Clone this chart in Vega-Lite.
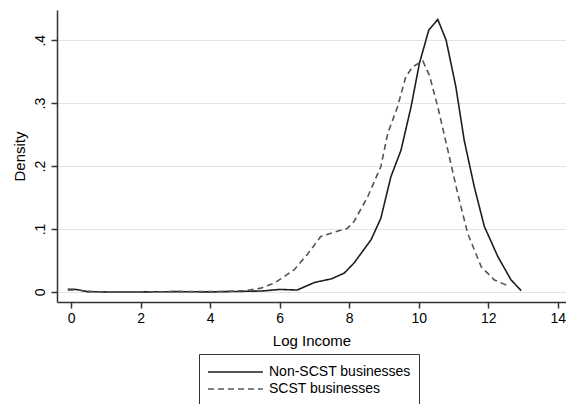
{
  "$schema": "https://vega.github.io/schema/vega-lite/v6.json",
  "width": 509,
  "height": 292,
  "autosize": "none",
  "padding": {"left": 57, "top": 10, "right": 0, "bottom": 102},
  "background": "white",
  "config": {
    "font": "Liberation Sans",
    "view": {"stroke": null},
    "axis": {"domainColor": "#333", "domainWidth": 1.5, "tickColor": "#333", "tickWidth": 1.5, "tickSize": 6, "labelFontSize": 14, "titleFontSize": 15, "labelColor": "#000", "titleColor": "#000", "titleFontWeight": "normal"}
  },
  "data": {"values": [
    {"x": -0.1, "y": 0.004, "g": "Non-SCST businesses"},
    {"x": 0.1, "y": 0.004, "g": "Non-SCST businesses"},
    {"x": 0.25, "y": 0.003, "g": "Non-SCST businesses"},
    {"x": 0.45, "y": 0.0005, "g": "Non-SCST businesses"},
    {"x": 1, "y": 0.0, "g": "Non-SCST businesses"},
    {"x": 2, "y": 0.0, "g": "Non-SCST businesses"},
    {"x": 3, "y": 0.0005, "g": "Non-SCST businesses"},
    {"x": 4, "y": 0.0, "g": "Non-SCST businesses"},
    {"x": 5, "y": 0.001, "g": "Non-SCST businesses"},
    {"x": 5.5, "y": 0.0015, "g": "Non-SCST businesses"},
    {"x": 6.0, "y": 0.004, "g": "Non-SCST businesses"},
    {"x": 6.5, "y": 0.003, "g": "Non-SCST businesses"},
    {"x": 7.0, "y": 0.015, "g": "Non-SCST businesses"},
    {"x": 7.5, "y": 0.021, "g": "Non-SCST businesses"},
    {"x": 7.86, "y": 0.030, "g": "Non-SCST businesses"},
    {"x": 8.14, "y": 0.046, "g": "Non-SCST businesses"},
    {"x": 8.63, "y": 0.083, "g": "Non-SCST businesses"},
    {"x": 8.91, "y": 0.117, "g": "Non-SCST businesses"},
    {"x": 9.2, "y": 0.183, "g": "Non-SCST businesses"},
    {"x": 9.49, "y": 0.225, "g": "Non-SCST businesses"},
    {"x": 9.78, "y": 0.294, "g": "Non-SCST businesses"},
    {"x": 10.02, "y": 0.363, "g": "Non-SCST businesses"},
    {"x": 10.29, "y": 0.416, "g": "Non-SCST businesses"},
    {"x": 10.55, "y": 0.433, "g": "Non-SCST businesses"},
    {"x": 10.79, "y": 0.400, "g": "Non-SCST businesses"},
    {"x": 11.07, "y": 0.326, "g": "Non-SCST businesses"},
    {"x": 11.31, "y": 0.241, "g": "Non-SCST businesses"},
    {"x": 11.6, "y": 0.167, "g": "Non-SCST businesses"},
    {"x": 11.89, "y": 0.104, "g": "Non-SCST businesses"},
    {"x": 12.28, "y": 0.056, "g": "Non-SCST businesses"},
    {"x": 12.66, "y": 0.019, "g": "Non-SCST businesses"},
    {"x": 12.95, "y": 0.002, "g": "Non-SCST businesses"},
    {"x": -0.1, "y": 0.003, "g": "SCST businesses"},
    {"x": 0.2, "y": 0.003, "g": "SCST businesses"},
    {"x": 0.4, "y": 0.001, "g": "SCST businesses"},
    {"x": 1, "y": 0.0, "g": "SCST businesses"},
    {"x": 2, "y": 0.0, "g": "SCST businesses"},
    {"x": 3, "y": 0.0005, "g": "SCST businesses"},
    {"x": 4, "y": 0.0005, "g": "SCST businesses"},
    {"x": 4.5, "y": 0.001, "g": "SCST businesses"},
    {"x": 5, "y": 0.002, "g": "SCST businesses"},
    {"x": 5.46, "y": 0.006, "g": "SCST businesses"},
    {"x": 5.84, "y": 0.014, "g": "SCST businesses"},
    {"x": 6.2, "y": 0.027, "g": "SCST businesses"},
    {"x": 6.41, "y": 0.035, "g": "SCST businesses"},
    {"x": 6.8, "y": 0.060, "g": "SCST businesses"},
    {"x": 7.18, "y": 0.088, "g": "SCST businesses"},
    {"x": 7.57, "y": 0.095, "g": "SCST businesses"},
    {"x": 7.95, "y": 0.101, "g": "SCST businesses"},
    {"x": 8.14, "y": 0.112, "g": "SCST businesses"},
    {"x": 8.53, "y": 0.151, "g": "SCST businesses"},
    {"x": 8.91, "y": 0.199, "g": "SCST businesses"},
    {"x": 9.11, "y": 0.252, "g": "SCST businesses"},
    {"x": 9.39, "y": 0.294, "g": "SCST businesses"},
    {"x": 9.63, "y": 0.342, "g": "SCST businesses"},
    {"x": 9.83, "y": 0.358, "g": "SCST businesses"},
    {"x": 10.12, "y": 0.367, "g": "SCST businesses"},
    {"x": 10.31, "y": 0.344, "g": "SCST businesses"},
    {"x": 10.55, "y": 0.294, "g": "SCST businesses"},
    {"x": 10.84, "y": 0.225, "g": "SCST businesses"},
    {"x": 11.12, "y": 0.157, "g": "SCST businesses"},
    {"x": 11.41, "y": 0.093, "g": "SCST businesses"},
    {"x": 11.8, "y": 0.040, "g": "SCST businesses"},
    {"x": 12.18, "y": 0.019, "g": "SCST businesses"},
    {"x": 12.56, "y": 0.010, "g": "SCST businesses"}
  ]},
  "mark": {"type": "line", "strokeWidth": 1.6},
  "encoding": {
    "x": {"field": "x", "type": "quantitative", "title": "Log Income",
      "scale": {"domain": [-0.41, 14.24], "nice": false, "zero": false},
      "axis": {"values": [0, 2, 4, 6, 8, 10, 12, 14], "grid": false, "labelPadding": 3, "titlePadding": 8}},
    "y": {"field": "y", "type": "quantitative", "title": "Density",
      "scale": {"domain": [-0.016, 0.448], "nice": false, "zero": false},
      "axis": {"values": [0, 0.1, 0.2, 0.3, 0.4], "gridColor": "#e3e3e3", "gridWidth": 1.2,
        "labelExpr": "datum.value == 0 ? '0' : replace(format(datum.value, '.1f'), '0.', '.')",
        "labelAngle": -90, "labelAlign": "center", "labelBaseline": "bottom", "labelPadding": 4, "titlePadding": 6}},
    "color": {"field": "g", "type": "nominal", "scale": {"range": ["#1e1e1e", "#555555"]},
      "legend": {"title": null, "orient": "none", "legendX": 142, "legendY": 344, "direction": "vertical",
        "strokeColor": "#333", "padding": 8, "symbolType": "M-1,0H5.1", "symbolSize": 324, "symbolStrokeWidth": 1.6,
        "labelFontSize": 14, "labelColor": "#000", "labelOffset": 42, "rowPadding": 0}},
    "strokeDash": {"field": "g", "type": "nominal", "scale": {"range": [[1, 0], [6, 4]]}}
  }
}
